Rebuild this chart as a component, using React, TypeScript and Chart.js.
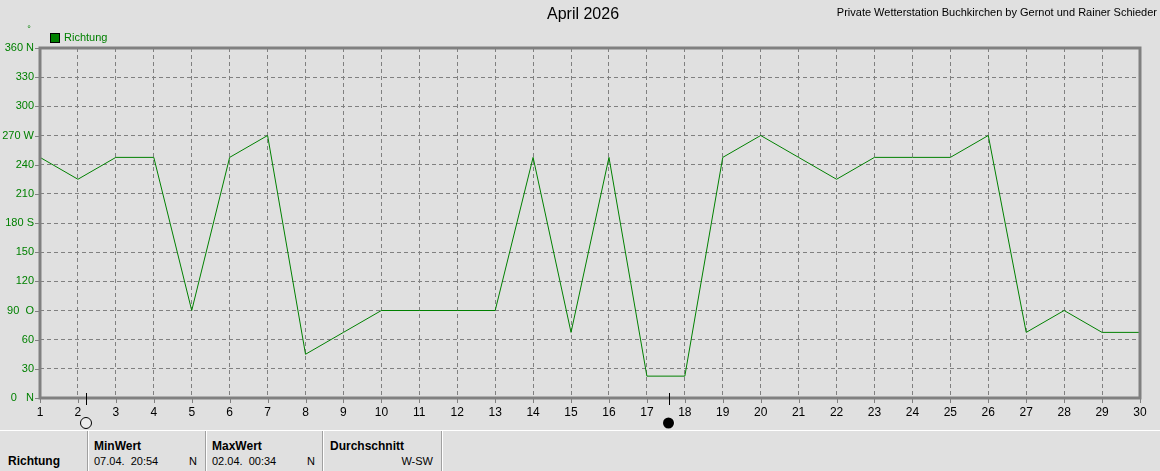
import React, { useEffect, useRef } from "react";
import { Chart, registerables } from "chart.js";

Chart.register(...registerables);

const chartTitle = "April 2026";
const stationText = "Private Wetterstation Buchkirchen by Gernot und Rainer Schieder";
const seriesName = "Richtung";
const unitLabel = "°";

const days = [1, 2, 3, 4, 5, 6, 7, 8, 9, 10, 11, 12, 13, 14, 15, 16, 17, 18, 19, 20, 21, 22, 23, 24, 25, 26, 27, 28, 29, 30];
const direction = [
  247.5, 225, 247.5, 247.5, 90, 247.5, 270, 45, 67.5, 90,
  90, 90, 90, 247.5, 67.5, 247.5, 22.5, 22.5, 247.5, 270,
  247.5, 225, 247.5, 247.5, 247.5, 270, 67.5, 90, 67.5, 67.5,
];

const yTickValues = [0, 30, 60, 90, 120, 150, 180, 210, 240, 270, 300, 330, 360];
const yTickLabels = ["0   N", "30", "60", "90  O", "120", "150", "180 S", "210", "240", "270 W", "300", "330", "360 N"];

const moonDays = [2.2, 17.58];
const moonKinds = ["full", "new"];

const statRowLabel = "Richtung";
const statHeaders = ["MinWert", "MaxWert", "Durchschnitt"];
const statTimes = ["07.04.  20:54", "02.04.  00:34", ""];
const statValues = ["N", "N", "W-SW"];

const GREEN = "#008000";
const GRAY = "#808080";
const FONT = "'Liberation Sans', Arial, sans-serif";

const decorPlugin = {
  id: "decor",
  afterDraw(chart: any) {
    const { ctx, chartArea } = chart;
    const { left, right, top, bottom } = chartArea;
    const xs = chart.scales.x;
    const ys = chart.scales.y;
    ctx.save();

    // title
    ctx.fillStyle = "#000";
    ctx.font = `16px ${FONT}`;
    ctx.textAlign = "center";
    ctx.textBaseline = "middle";
    ctx.fillText(chartTitle, 583, 15);

    // station text
    ctx.font = `11px ${FONT}`;
    ctx.textAlign = "right";
    ctx.fillText(stationText, 1157, 13);

    // unit
    ctx.fillStyle = GREEN;
    ctx.font = `9px ${FONT}`;
    ctx.textAlign = "center";
    ctx.fillText(unitLabel, 29, 30);

    // legend
    ctx.fillStyle = GREEN;
    ctx.fillRect(50, 33, 10, 10);
    ctx.strokeStyle = "#000";
    ctx.lineWidth = 1;
    ctx.strokeRect(50.5, 33.5, 9, 9);
    ctx.fillStyle = GREEN;
    ctx.font = `11px ${FONT}`;
    ctx.textAlign = "left";
    ctx.textBaseline = "middle";
    ctx.fillText(seriesName, 64, 38);

    // tick marks
    ctx.strokeStyle = GRAY;
    ctx.lineWidth = 1;
    ctx.beginPath();
    yTickValues.forEach((v) => {
      const y = Math.round(ys.getPixelForValue(v)) + 0.5;
      ctx.moveTo(left - 5, y);
      ctx.lineTo(left, y);
    });
    days.forEach((d) => {
      const x = Math.round(xs.getPixelForValue(d)) + 0.5;
      ctx.moveTo(x, bottom);
      ctx.lineTo(x, bottom + 5);
    });
    ctx.stroke();

    // frame
    ctx.strokeStyle = GRAY;
    ctx.lineWidth = 3;
    ctx.strokeRect(left, top, right - left, bottom - top);

    // moon markers
    moonDays.forEach((d, i) => {
      const x = Math.round(xs.getPixelForValue(d)) + 0.5;
      ctx.strokeStyle = "#000";
      ctx.lineWidth = 1;
      ctx.beginPath();
      ctx.moveTo(x, bottom - 5);
      ctx.lineTo(x, bottom + 7);
      ctx.stroke();
      ctx.beginPath();
      ctx.arc(x - 0.5, 423, 5.5, 0, Math.PI * 2);
      if (moonKinds[i] === "full") {
        ctx.fillStyle = "#ececec";
        ctx.fill();
        ctx.strokeStyle = "#000";
        ctx.stroke();
      } else {
        ctx.fillStyle = "#fff";
        ctx.fill();
        ctx.beginPath();
        ctx.arc(x - 1, 423, 5.5, 0, Math.PI * 2);
        ctx.fillStyle = "#000";
        ctx.fill();
      }
    });

    ctx.restore();
  },
};

export default function App() {
  const canvasRef = useRef<HTMLCanvasElement | null>(null);

  useEffect(() => {
    document.body.style.margin = "0";
    const canvas = canvasRef.current;
    if (!canvas) return;
    const chart = new Chart(canvas, {
      type: "line",
      data: {
        datasets: [
          {
            label: seriesName,
            data: days.map((d, i) => ({ x: d, y: direction[i] })),
            borderColor: GREEN,
            backgroundColor: GREEN,
            borderWidth: 1,
            pointRadius: 0,
            tension: 0,
            fill: false,
          },
        ],
      },
      options: {
        animation: false,
        responsive: false,
        devicePixelRatio: 1,
        layout: { padding: { top: 48, right: 20, left: 0, bottom: 0 } },
        plugins: {
          legend: { display: false },
          title: { display: false },
          tooltip: { enabled: false },
        },
        scales: {
          x: {
            type: "linear",
            min: 1,
            max: 30,
            afterFit: (s: any) => {
              s.height = 32;
            },
            afterBuildTicks: (s: any) => {
              s.ticks = days.map((d) => ({ value: d }));
            },
            ticks: {
              autoSkip: false,
              maxRotation: 0,
              padding: 7,
              color: "#000",
              font: { family: FONT, size: 12 },
              callback: (v: any) => String(v),
            },
            grid: { color: GRAY, lineWidth: 1, drawTicks: false },
            border: { display: false, dash: [4, 3] },
          },
          y: {
            type: "linear",
            min: 0,
            max: 360,
            afterFit: (s: any) => {
              s.width = 40;
            },
            afterBuildTicks: (s: any) => {
              s.ticks = yTickValues.map((v) => ({ value: v }));
            },
            ticks: {
              autoSkip: false,
              padding: 6,
              color: GREEN,
              font: { family: FONT, size: 11 },
              callback: (v: any) => {
                const idx = yTickValues.indexOf(Number(v));
                return idx >= 0 ? yTickLabels[idx] : "";
              },
            },
            grid: { color: GRAY, lineWidth: 1, drawTicks: false },
            border: { display: false, dash: [4, 3] },
          },
        },
      },
      plugins: [decorPlugin],
    });
    return () => chart.destroy();
  }, []);

  const sepXs = [87, 205, 322, 441];
  const cellXs = [94, 212, 330];
  const cellRights = [197, 315, 433];

  return (
    <div
      style={{
        position: "absolute",
        left: 0,
        top: 0,
        width: 1160,
        height: 471,
        background: "#e0e0e0",
        overflow: "hidden",
        fontFamily: FONT,
      }}
    >
      <canvas ref={canvasRef} width={1160} height={430} style={{ position: "absolute", left: 0, top: 0, width: 1160, height: 430 }} />
      <div style={{ position: "absolute", left: 0, top: 430, width: 1160, height: 1, background: "#fff" }} />
      {sepXs.map((x) => (
        <React.Fragment key={x}>
          <div style={{ position: "absolute", left: x, top: 431, width: 1, height: 40, background: "#a0a0a0" }} />
          <div style={{ position: "absolute", left: x + 1, top: 431, width: 1, height: 40, background: "#fff" }} />
        </React.Fragment>
      ))}
      <div style={{ position: "absolute", left: 8, top: 454, fontSize: 12, fontWeight: "bold", lineHeight: "15px", color: "#000" }}>
        {statRowLabel}
      </div>
      {statHeaders.map((h, i) => (
        <React.Fragment key={h}>
          <div style={{ position: "absolute", left: cellXs[i], top: 439, fontSize: 12, fontWeight: "bold", lineHeight: "15px", color: "#000" }}>
            {h}
          </div>
          <div style={{ position: "absolute", left: cellXs[i], top: 454, fontSize: 11, lineHeight: "15px", color: "#000", whiteSpace: "pre" }}>
            {statTimes[i]}
          </div>
          <div
            style={{
              position: "absolute",
              left: cellRights[i] - 60,
              width: 60,
              textAlign: "right",
              top: 454,
              fontSize: 11,
              lineHeight: "15px",
              color: "#000",
            }}
          >
            {statValues[i]}
          </div>
        </React.Fragment>
      ))}
    </div>
  );
}
